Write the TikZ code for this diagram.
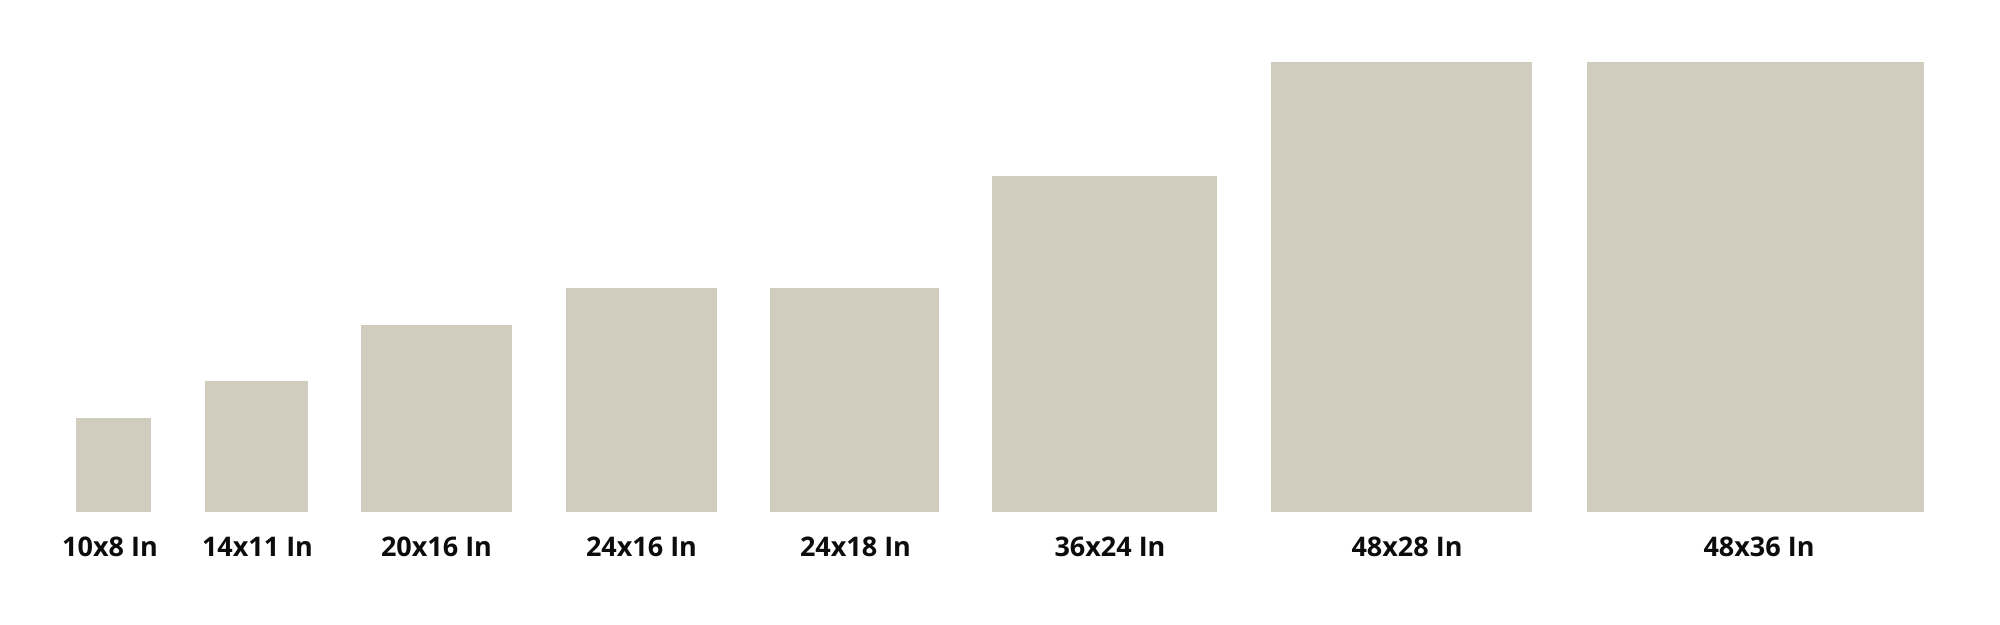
\documentclass[tikz,border=0pt]{standalone}
\usepackage{fontspec}
\setmainfont{Open Sans}
\usepackage{tikz}
\usetikzlibrary{positioning}
\definecolor{canvas}{RGB}{209,205,190}
\definecolor{ink}{RGB}{12,12,12}

\begin{document}
\begin{tikzpicture}[x=0.5pt, y=0.5pt]
  \useasboundingbox (0,0) rectangle (2000,625);
  \foreach \i/\lab/\bx/\w/\h/\lx in {
    1/10x8 In/75.5/75/94/110,
    2/14x11 In/204.5/103/131.5/257.5,
    3/20x16 In/361/151/187.5/436.5,
    4/24x16 In/566/150.5/224.5/641.5,
    5/24x18 In/770/169/224.5/855.5,
    6/36x24 In/992/225/336.5/1110,
    7/48x28 In/1271/261/450.5/1407,
    8/48x36 In/1587/337/450.5/1759} {
      \node[draw=none, fill=canvas, inner sep=0pt, anchor=south west,
            minimum width=\w*0.5pt, minimum height=\h*0.5pt] (box\i) at (\bx,112.5) {};
      \node[font=\bfseries\fontsize{13.5}{16}\selectfont, text=ink, anchor=base, inner sep=0pt] (lab\i) at (\lx,68) {\lab};
  }
\end{tikzpicture}
\end{document}
